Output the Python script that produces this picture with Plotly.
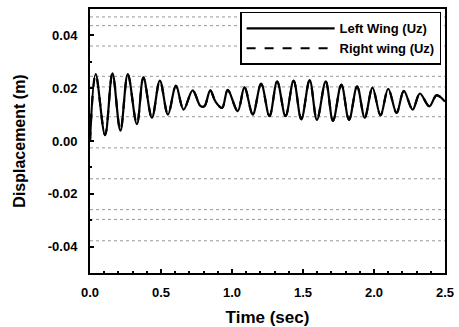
import plotly.graph_objects as go

# Time (s) of peaks/troughs
time_s = [0.000, 0.040, 0.106, 0.158, 0.214, 0.266, 0.330, 0.376, 0.436, 0.492,
          0.549, 0.605, 0.659, 0.723, 0.777, 0.805, 0.847, 0.883, 0.930, 0.970,
          1.040, 1.088, 1.146, 1.205, 1.264, 1.318, 1.377, 1.434, 1.488, 1.547,
          1.598, 1.660, 1.711, 1.770, 1.824, 1.881, 1.935, 1.989, 2.046, 2.100,
          2.159, 2.210, 2.272, 2.323, 2.389, 2.441, 2.500]

left_wing_uz = [0.0000, 0.0253, 0.0022, 0.0256, 0.0039, 0.0253, 0.0064, 0.0241, 0.0088, 0.0229,
                0.0100, 0.0210, 0.0119, 0.0192, 0.0133, 0.0131, 0.0192, 0.0150, 0.0125, 0.0194,
                0.0113, 0.0204, 0.0100, 0.0217, 0.0094, 0.0226, 0.0094, 0.0229, 0.0082, 0.0231,
                0.0080, 0.0226, 0.0076, 0.0214, 0.0080, 0.0207, 0.0088, 0.0202, 0.0097, 0.0198,
                0.0106, 0.0190, 0.0119, 0.0180, 0.0131, 0.0174, 0.0149]

right_wing_uz = [0.0000, 0.0252, 0.0023, 0.0255, 0.0040, 0.0252, 0.0065, 0.0240, 0.0089, 0.0228,
                 0.0101, 0.0209, 0.0120, 0.0191, 0.0134, 0.0132, 0.0191, 0.0150, 0.0126, 0.0193,
                 0.0114, 0.0203, 0.0101, 0.0216, 0.0095, 0.0225, 0.0095, 0.0228, 0.0083, 0.0230,
                 0.0081, 0.0225, 0.0077, 0.0213, 0.0081, 0.0206, 0.0089, 0.0201, 0.0098, 0.0197,
                 0.0107, 0.0189, 0.0120, 0.0179, 0.0132, 0.0173, 0.0149]

x_ticks = [0.0, 0.5, 1.0, 1.5, 2.0, 2.5]
x_tick_labels = ["0.0", "0.5", "1.0", "1.5", "2.0", "2.5"]
y_ticks = [-0.04, -0.02, 0.00, 0.02, 0.04]
y_tick_labels = ["-0.04", "-0.02", "0.00", "0.02", "0.04"]
grid_levels = [0.047, 0.0437, 0.036, 0.0245, 0.0205, 0.0092, -0.0026, -0.0143, -0.026, -0.0297, -0.0378]

FONT = "Liberation Sans, Arial, sans-serif"

fig = go.Figure()
fig.add_trace(go.Scatter(x=time_s, y=left_wing_uz, mode="lines", name="Left Wing (Uz)",
                         line=dict(color="black", width=2.2, shape="spline", smoothing=1)))
fig.add_trace(go.Scatter(x=time_s, y=right_wing_uz, mode="lines", name="Right wing (Uz)",
                         line=dict(color="black", width=2.2, dash="dash", shape="spline", smoothing=1)))

for g in grid_levels:
    fig.add_shape(type="line", xref="paper", x0=0, x1=1, yref="y", y0=g, y1=g,
                  line=dict(color="#999", width=1, dash="dot"), layer="below")

axis_common = dict(showline=True, linecolor="black", linewidth=2, mirror=True,
                   ticks="inside", tickcolor="black", ticklen=4, tickwidth=1.5,
                   showgrid=False, zeroline=False, automargin=False,
                   tickfont=dict(family=FONT, size=13, color="black", weight="bold"))

fig.update_xaxes(range=[0, 2.5], tickvals=x_ticks, ticktext=x_tick_labels,
                 ticklabelstandoff=6,
                 minor=dict(ticks="inside", ticklen=2, dtick=0.1, tickcolor="black"),
                 title=dict(text="Time (sec)", standoff=14,
                            font=dict(family=FONT, size=17, color="black", weight="bold")),
                 **axis_common)
fig.update_yaxes(range=[-0.05, 0.05], tickvals=y_ticks, ticktext=y_tick_labels,
                 ticklabelstandoff=8,
                 minor=dict(ticks="inside", ticklen=2, dtick=0.01, tickcolor="black"),
                 title=dict(text="Displacement (m)", standoff=18,
                            font=dict(family=FONT, size=16, color="black", weight="bold")),
                 **axis_common)

fig.update_layout(
    width=459, height=327,
    margin=dict(l=90, r=14, t=9, b=54),
    paper_bgcolor="white", plot_bgcolor="white",
    showlegend=True,
    legend=dict(x=0.989, y=0.989, xanchor="right", yanchor="top",
                bgcolor="white", bordercolor="black", borderwidth=1.5,
                itemwidth=88, tracegroupgap=0,
                font=dict(family=FONT, size=13, color="black", weight="bold")),
)

fig.write_html("out.html", config={"displayModeBar": False},
               post_script="document.body.style.margin='0';")
